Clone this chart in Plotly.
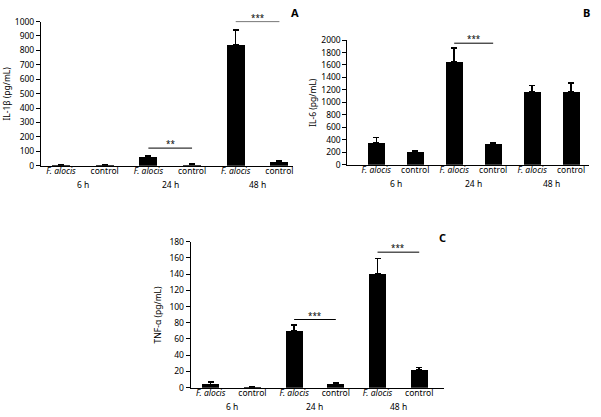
import plotly.graph_objects as go

categories = ["<i>F. alocis</i>", "control", "<i>F. alocis</i>", "control", "<i>F. alocis</i>", "control"]
times = ["6 h", "24 h", "48 h"]

il1b_vals = [5, 3, 60, 8, 840, 25]
il1b_err = [7, 3, 70, 12, 940, 32]
il6_vals = [350, 210, 1650, 340, 1170, 1170]
il6_err = [440, 220, 1870, 350, 1270, 1310]
tnf_vals = [4, 0.5, 70, 5, 140, 22]
tnf_err = [7, 1, 77, 6, 159, 25]

il1b_sig = [(2, 3, 122, "**"), (4, 5, 1000, "***")]
il6_sig = [(2, 3, 1950, "***")]
tnf_sig = [(2, 3, 84, "***"), (4, 5, 167, "***")]

W, H = 601, 417
FONT = "Noto Sans"


def px_x(x):
    return x / W


def px_y(y):
    return 1 - y / H


panels = [
    dict(name="A", vals=il1b_vals, err=il1b_err, sig=il1b_sig, title="IL-1β (pg/mL)",
         px=(41, 293), py=(16, 164), yr=[0, 1000], dt=100, xr=[-0.46, 5.3], bw=0.41,
         lab=(295, 7), title_x=7, xa="x", ya="y"),
    dict(name="B", vals=il6_vals, err=il6_err, sig=il6_sig, title="IL-6 (pg/mL)",
         px=(348, 590), py=(35, 163), yr=[0, 2000], dt=200, xr=[-0.74, 5.46], bw=0.44,
         lab=(587, 7), title_x=313, xa="x2", ya="y2"),
    dict(name="C", vals=tnf_vals, err=tnf_err, sig=tnf_sig, title="TNF-α (pg/mL)",
         px=(191, 445), py=(242, 392), yr=[0, 180], dt=20, xr=[-0.48, 5.6], bw=0.41,
         lab=(443, 238), title_x=158, xa="x3", ya="y3"),
]

fig = go.Figure()
shapes = []
annotations = []
layout = {}
for i, p in enumerate(panels):
    idx = "" if i == 0 else str(i + 1)
    xs = list(range(len(p["vals"])))
    fig.add_trace(go.Bar(
        x=xs, y=p["vals"], width=p["bw"], marker=dict(color="black", line=dict(width=0)),
        error_y=dict(type="data", symmetric=False,
                     array=[e - v for e, v in zip(p["err"], p["vals"])],
                     arrayminus=[0] * len(xs), color="black", thickness=1.5, width=3),
        xaxis=p["xa"], yaxis=p["ya"], showlegend=False, hoverinfo="skip"))
    xd = [px_x(p["px"][0]), px_x(p["px"][1])]
    yd = [px_y(p["py"][1]), px_y(p["py"][0])]
    layout["xaxis" + idx] = dict(
        domain=xd, range=p["xr"], anchor=p["ya"], tickmode="array", tickvals=xs,
        ticktext=categories, ticks="", showline=True, linecolor="black", linewidth=1,
        showgrid=False, zeroline=False, tickfont=dict(size=8.5, color="black", family=FONT),
        ticklabelstandoff=-3, fixedrange=True)
    layout["yaxis" + idx] = dict(
        domain=yd, range=p["yr"], anchor=p["xa"], dtick=p["dt"], tick0=0, ticks="outside",
        ticklen=4, tickcolor="black", showline=True, linecolor="black", linewidth=1,
        showgrid=False, zeroline=False, tickfont=dict(size=8.5, color="black", family=FONT),
        fixedrange=True)
    for g, t in enumerate(times):
        annotations.append(dict(x=2 * g + 0.5, y=0, xref=p["xa"], yref=p["ya"] + " domain",
                                text=t, showarrow=False, yanchor="middle", yshift=-19,
                                font=dict(size=8.5, color="black", family=FONT)))
    for a, b, h, s in p["sig"]:
        shapes.append(dict(type="line", x0=a, x1=b, y0=h, y1=h, xref=p["xa"], yref=p["ya"],
                           line=dict(color="black", width=1)))
        annotations.append(dict(x=(a + b) / 2, y=h, xref=p["xa"], yref=p["ya"], text=s,
                                showarrow=False, yanchor="bottom", yshift=-3,
                                font=dict(size=8, color="black", family=FONT)))
    annotations.append(dict(x=px_x(p["lab"][0]), y=px_y(p["lab"][1]), xref="paper", yref="paper",
                            text="<b>" + p["name"] + "</b>", showarrow=False,
                            xanchor="center", yanchor="middle",
                            font=dict(size=11, color="black", family=FONT)))
    annotations.append(dict(x=px_x(p["title_x"]), y=(yd[0] + yd[1]) / 2, xref="paper", yref="paper",
                            text=p["title"], textangle=-90, showarrow=False,
                            xanchor="center", yanchor="middle",
                            font=dict(size=8.5, color="black", family=FONT)))

fig.update_layout(width=W, height=H, margin=dict(l=0, r=0, t=0, b=0),
                  plot_bgcolor="white", paper_bgcolor="white", shapes=shapes,
                  annotations=annotations, bargap=0, hovermode=False, **layout)
fig.write_html("out.html", config={"displayModeBar": False, "staticPlot": True},
               post_script="document.body.style.margin='0';")
